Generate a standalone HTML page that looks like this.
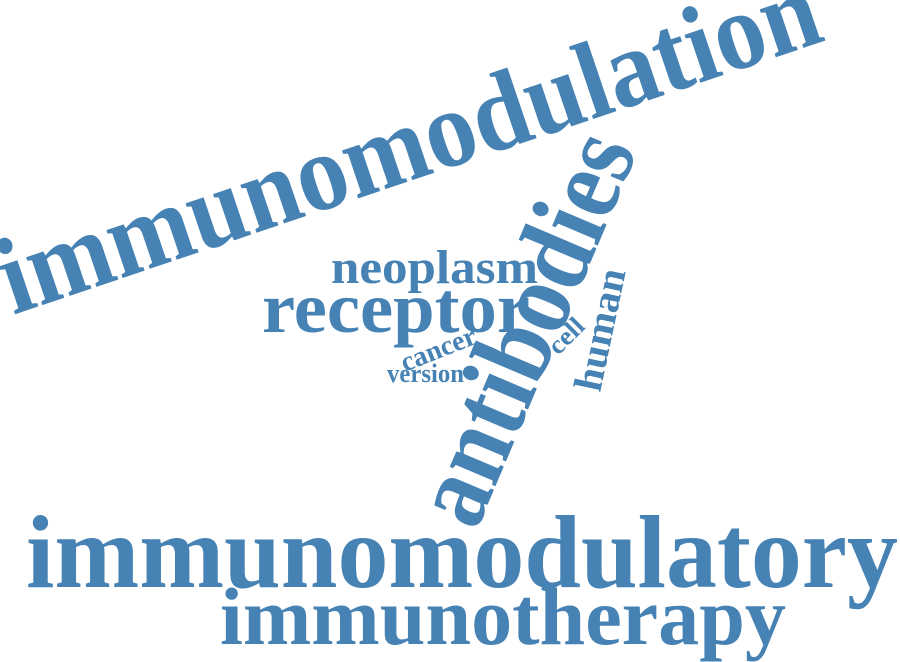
<!DOCTYPE html>
<html><head><meta charset="utf-8"><style>
html,body{margin:0;padding:0;background:#fff;width:900px;height:662px;overflow:hidden}
text{font-family:"Liberation Serif",serif;font-weight:bold;fill:#4682b4}
</style></head><body>
<svg width="900" height="662" viewBox="0 0 900 662">
<text font-size="110" textLength="859" lengthAdjust="spacingAndGlyphs" transform="translate(13,315) rotate(-18.67)">immunomodulation</text>
<text x="26" y="587" font-size="104" textLength="872" lengthAdjust="spacingAndGlyphs">immunomodulatory</text>
<text x="220" y="644" font-size="82" textLength="566" lengthAdjust="spacingAndGlyphs">immunotherapy</text>
<text font-size="108" textLength="414" lengthAdjust="spacingAndGlyphs" transform="translate(476,532) rotate(-67)">antibodies</text>
<text x="331" y="283" font-size="48" textLength="207" lengthAdjust="spacingAndGlyphs">neoplasm</text>
<text x="262" y="332" font-size="72" textLength="268" lengthAdjust="spacingAndGlyphs">receptor</text>
<text font-size="28" textLength="79" lengthAdjust="spacingAndGlyphs" transform="translate(405,372) rotate(-21.7)">cancer</text>
<text x="387" y="382" font-size="26" textLength="77" lengthAdjust="spacingAndGlyphs">version</text>
<text font-size="26" textLength="40" lengthAdjust="spacingAndGlyphs" transform="translate(558,356) rotate(-45)">cell</text>
<text font-size="40" textLength="124" lengthAdjust="spacingAndGlyphs" transform="translate(600,393) rotate(-78)">human</text>
</svg>
</body></html>
